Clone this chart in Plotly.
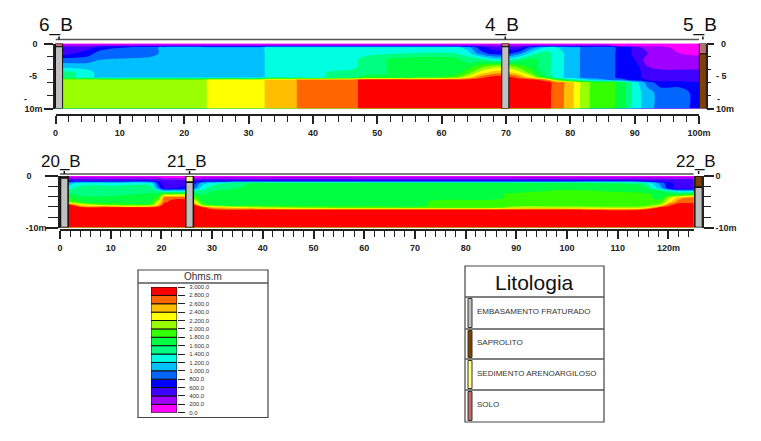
import plotly.graph_objects as go

W, H = 761, 441

# resistivity classes of the colour scale (ohm.m)
band_edges = [0, 200, 400, 600, 800, 1000, 1200, 1400, 1600, 1800, 2000, 2200, 2400, 2600, 2800, 3000]
band_labels = ['0,0', '200,0', '400,0', '600,0', '800,0', '1.000,0', '1.200,0', '1.400,0', '1.600,0',
               '1.800,0', '2.000,0', '2.200,0', '2.400,0', '2.600,0', '2.800,0', '3.000,0']
band_colors = ['#ff00ff', '#a000ff', '#4000ff', '#0000ff', '#0066ff', '#00bfff', '#00ffe0', '#00ff80',
               '#00ff40', '#33ff00', '#99ff00', '#ffff00', '#ffbf00', '#ff6600', '#ff0000']

# section 1, wells 6_B / 4_B / 5_B
x1 = [0, 1.2, 5, 7, 15, 17, 23, 24, 32, 33, 37, 38, 46, 48, 55, 62, 64, 66, 68, 70, 72, 74, 76, 78, 80, 81, 82, 84, 86, 88, 89, 90, 92, 94, 97, 100]
y1 = [0, -0.3, -0.6, -1.5, -2.5, -3.5, -4.5, -5.2, -5.6, -6, -7.5, -10]
z1 = [
    [100, 100, 100, 100, 100, 100, 100, 100, 100, 100, 100, 100, 100, 100, 100, 100, 100, 100, 100, 100, 100, 100, 100, 100, 100, 100, 100, 100, 100, 100, 100, 100, 100, 100, 100, 100],
    [300, 300, 300, 300, 300, 300, 300, 300, 300, 300, 300, 300, 300, 300, 300, 300, 300, 300, 300, 300, 300, 300, 300, 300, 300, 300, 300, 300, 300, 100, 100, 100, 100, 100, 100, 100],
    [500, 500, 500, 700, 900, 1100, 1100, 1100, 1100, 1300, 1300, 1300, 1300, 1300, 1300, 1300, 1100, 700, 500, 500, 500, 900, 1200, 1200, 1100, 1100, 900, 900, 900, 700, 700, 500, 300, 300, 100, 100],
    [500, 500, 700, 900, 900, 1100, 1100, 1100, 1100, 1300, 1300, 1300, 1300, 1300, 1400, 1400, 1300, 900, 700, 700, 900, 1300, 1500, 1300, 1100, 1100, 900, 900, 900, 700, 700, 500, 400, 300, 200, 150],
    [900, 900, 900, 1000, 1100, 1100, 1100, 1100, 1100, 1300, 1300, 1300, 1300, 1500, 1700, 1700, 1500, 1500, 1300, 1300, 1500, 1700, 1500, 1300, 1100, 1100, 900, 900, 900, 700, 700, 600, 300, 300, 300, 300],
    [1100, 1100, 1100, 1100, 1100, 1100, 1100, 1100, 1100, 1300, 1300, 1300, 1300, 1500, 1700, 1700, 1700, 1900, 2100, 2100, 1900, 1700, 1500, 1300, 1100, 1100, 900, 900, 900, 700, 700, 700, 400, 300, 300, 300],
    [1500, 1500, 1300, 1100, 1100, 1100, 1100, 1100, 1100, 1300, 1300, 1300, 1500, 1500, 1700, 1700, 1900, 2300, 2500, 2500, 2300, 1900, 1500, 1300, 1100, 1100, 900, 900, 900, 700, 700, 700, 500, 500, 500, 500],
    [1700, 1500, 1300, 1100, 1100, 1100, 1100, 1100, 1100, 1300, 1300, 1300, 1500, 1700, 1700, 1900, 2300, 2700, 2900, 2900, 2700, 2300, 1700, 1300, 1100, 1100, 900, 900, 900, 700, 700, 700, 500, 500, 500, 500],
    [2100, 2100, 2100, 2100, 2100, 2100, 2100, 2300, 2300, 2500, 2500, 2700, 2700, 2900, 2900, 2900, 2900, 2900, 2900, 2900, 2900, 2900, 2700, 1900, 1500, 1400, 1300, 1100, 1000, 900, 800, 700, 600, 500, 500, 500],
    [2100, 2100, 2100, 2100, 2100, 2100, 2100, 2300, 2300, 2500, 2500, 2700, 2700, 2900, 2900, 2900, 2900, 2900, 2900, 2900, 2900, 2900, 2900, 2700, 2500, 2300, 2100, 1900, 1900, 1700, 1500, 1300, 900, 700, 700, 600],
    [2100, 2100, 2100, 2100, 2100, 2100, 2100, 2300, 2300, 2500, 2500, 2700, 2700, 2900, 2900, 2900, 2900, 2900, 2900, 2900, 2900, 2900, 2900, 2700, 2500, 2300, 2100, 1900, 1900, 1700, 1500, 1300, 1100, 900, 900, 700],
    [2100, 2100, 2100, 2100, 2100, 2100, 2100, 2300, 2300, 2500, 2500, 2700, 2700, 2900, 2900, 2900, 2900, 2900, 2900, 2900, 2900, 2900, 2900, 2700, 2500, 2300, 2100, 1900, 1900, 1700, 1500, 1300, 1100, 900, 900, 700],
]

# section 2, wells 20_B / 21_B / 22_B
x2 = [0, 1.6, 4, 10, 18, 19.5, 20.5, 22, 24.8, 26.3, 28, 30, 40, 60, 85, 90, 100, 115, 118.5, 120, 122, 125]
y2 = [0, -0.4, -0.9, -1.4, -2.4, -3, -3.6, -4.2, -5, -5.6, -6.1, -6.6, -10]
z2 = [
    [100, 100, 100, 100, 100, 100, 100, 100, 100, 100, 100, 100, 100, 100, 100, 100, 100, 100, 100, 100, 100, 100],
    [300, 300, 300, 300, 300, 300, 200, 200, 200, 200, 300, 300, 300, 300, 300, 300, 300, 300, 300, 300, 300, 300],
    [500, 500, 500, 500, 500, 500, 500, 500, 500, 500, 500, 500, 500, 500, 500, 500, 500, 500, 500, 500, 500, 500],
    [900, 1100, 1300, 1300, 1300, 700, 500, 500, 500, 700, 1100, 1300, 1700, 1700, 1700, 1700, 1700, 1500, 900, 700, 500, 500],
    [1300, 1300, 1500, 1500, 1500, 900, 600, 600, 700, 900, 1300, 1500, 1700, 1700, 1700, 1700, 1700, 1700, 1100, 700, 500, 500],
    [1500, 1500, 1500, 1500, 1500, 1500, 1300, 1300, 1300, 1500, 1500, 1600, 1700, 1700, 1700, 1700, 1900, 1700, 1700, 1500, 1300, 1300],
    [1700, 1700, 1500, 1500, 1700, 1700, 2100, 2100, 2100, 1700, 1600, 1700, 1700, 1700, 1700, 1900, 1900, 1900, 1700, 1700, 1700, 1900],
    [1900, 1800, 1700, 1700, 1700, 1900, 2700, 2700, 2700, 2000, 1700, 1700, 1700, 1700, 1700, 1900, 1900, 1900, 1700, 2100, 2500, 2700],
    [2100, 2000, 1800, 1700, 1700, 2300, 2700, 2900, 2900, 2400, 1800, 1700, 1700, 1700, 1900, 1900, 1900, 1900, 1900, 2300, 2700, 2700],
    [2900, 2900, 2300, 1900, 1900, 2500, 2900, 2900, 2900, 2900, 2000, 1800, 1700, 1700, 1900, 1900, 1900, 1900, 2100, 2700, 2900, 2900],
    [2900, 2900, 2900, 2900, 2900, 2900, 2900, 2900, 2900, 2900, 2900, 2500, 2100, 1900, 1900, 2100, 2100, 2100, 2900, 2900, 2900, 2900],
    [2900, 2900, 2900, 2900, 2900, 2900, 2900, 2900, 2900, 2900, 2900, 2900, 2900, 2900, 2900, 2900, 2900, 2900, 2900, 2900, 2900, 2900],
    [2900, 2900, 2900, 2900, 2900, 2900, 2900, 2900, 2900, 2900, 2900, 2900, 2900, 2900, 2900, 2900, 2900, 2900, 2900, 2900, 2900, 2900],
]

# lithology
litho_names = ['EMBASAMENTO FRATURADO', 'SAPROLITO', 'SEDIMENTO ARENOARGILOSO', 'SOLO']
litho_colors = ['#c0c0c0', '#804000', '#ffff80', '#c06a6a']
solo, sedimento, saprolito, embasamento = litho_colors[3], litho_colors[2], litho_colors[1], litho_colors[0]

# wells: name, x, [(bottom depth, colour)...]
wells1 = [('6_B', 0.55, [(-0.5, solo), (-10, embasamento)]),
          ('4_B', 69.9, [(-0.5, solo), (-10, embasamento)]),
          ('5_B', 100.6, [(-1.6, '#b07070'), (-10, saprolito)])]
wells2 = [('20_B', 0.85, [(-0.4, solo), (-10, embasamento)]),
          ('21_B', 25.55, [(-1.2, sedimento), (-10, embasamento)]),
          ('22_B', 125.95, [(-2.2, saprolito), (-10, embasamento)])]

FONT = 'Liberation Sans'
NB = '\u00a0'


def fx(px):
    return px / W


def fy(px):
    return 1 - px / H


# discrete colour scale
colorscale = []
for i, c in enumerate(band_colors):
    colorscale.append([i / 15, c])
    colorscale.append([(i + 1) / 15, c])

fig = go.Figure()


def add_section(xs, ys, zs, xa, xw, ya, yr, wells, width, line_w):
    fig.add_trace(go.Contour(x=xs, y=ys, z=zs, xaxis=xa, yaxis=ya, colorscale=colorscale, zmin=0, zmax=3000,
                             autocontour=False, contours=dict(start=0, end=3000, size=200, coloring='fill'),
                             line=dict(width=0), showscale=False, hoverinfo='skip'))
    # wells go on a hidden full-width x axis so the last one is not dropped past the end of the section
    for name, pos, layers in wells:
        top = 0
        for bottom, color in layers:
            fig.add_trace(go.Bar(x=[pos], y=[bottom - top], base=[top], width=[width], xaxis=xw, yaxis=yr,
                                 marker=dict(color=color, line=dict(color='#111111', width=line_w)),
                                 cliponaxis=False, showlegend=False, hoverinfo='skip'))
            top = bottom


add_section(x1, y1, z1, 'x', 'x4', 'y', 'y2', wells1, 1.1, 1)
add_section(x2, y2, z2, 'x2', 'x5', 'y3', 'y4', wells2, 1.5, 1.5)

# colour scale drawn as stacked bars
for i, c in enumerate(band_colors):
    fig.add_trace(go.Bar(x=[0], y=[band_edges[i + 1] - band_edges[i]], base=[band_edges[i]], width=[1],
                         xaxis='x3', yaxis='y5', marker=dict(color=c, line=dict(color='#111111', width=1)),
                         showlegend=False, hoverinfo='skip'))

tick_font = dict(family=FONT, size=9, color='#222222', weight='bold')
ax_line = dict(showline=True, linecolor='#222222', linewidth=1.5, ticks='outside', tickcolor='#222222',
               tickwidth=1.5, showgrid=False, zeroline=False, tickfont=tick_font, automargin=False)


def x_axis(left, right, axis_px, rng, vals, text):
    return dict(domain=[fx(left), fx(right)], range=rng, anchor='free', position=fy(axis_px), side='bottom',
                tickmode='array', tickvals=vals, ticktext=text, ticklen=8, ticklabelstandoff=1,
                minor=dict(dtick=2, tick0=0, ticks='outside', ticklen=6, tickcolor='#222222', tickwidth=1.2, showgrid=False),
                **ax_line)


def wide_axis(left, right, rng_end):
    # same scale as the visible axis, stretched over the whole page
    scale = (right - left) / rng_end
    return dict(domain=[0, 1], range=[-left / scale, (W - left) / scale], anchor='free', position=0, visible=False)


def y_axis(top, bottom, pos, side, text, overlay=None, ticklen=9, standoff=None):
    a = dict(domain=[fy(bottom), fy(top)], range=[-10, 0], anchor='free', position=fx(pos), side=side,
             tickmode='array', tickvals=[0, -10], ticktext=text, ticklen=ticklen,
             minor=dict(tickvals=[-2, -4, -6, -8], ticks='outside', ticklen=ticklen - 3, tickcolor='#222222',
                        tickwidth=1.2, showgrid=False), **ax_line)
    if overlay:
        a['overlaying'] = overlay
    if standoff is not None:
        a['ticklabelstandoff'] = standoff
    return a


fig.update_layout(
    width=W, height=H, margin=dict(l=0, r=0, t=0, b=0, autoexpand=False), autosize=False, barmode='overlay',
    paper_bgcolor='white', plot_bgcolor='rgba(0,0,0,0)', showlegend=False,
    xaxis=x_axis(55.5, 699, 115, [0, 100], [0, 10, 20, 30, 40, 50, 60, 70, 80, 90, 100],
                 ['0', '10', '20', '30', '40', '50', '60', '70', '80', '90', '100m']),
    yaxis=y_axis(43.5, 108.5, 54, 'left', ['0' + NB * 2, '10m']),
    yaxis2=y_axis(43.5, 108.5, 706.5, 'right', [NB * 2 + '0', '10m'], overlay='y', ticklen=7),
    xaxis2=x_axis(60, 693.8, 230, [0, 125], [0, 10, 20, 30, 40, 50, 60, 70, 80, 90, 100, 110, 120],
                  ['0', '10', '20', '30', '40', '50', '60', '70', '80', '90', '100', '110', '120m']),
    yaxis3=y_axis(176, 227.5, 59, 'left', ['0' + NB * 6, '-10m'], ticklen=13, standoff=-3),
    yaxis4=y_axis(176, 227.5, 703, 'right', ['0', '-10m'], overlay='y3', ticklen=10),
    xaxis3=dict(domain=[fx(151), fx(177)], range=[-0.5, 0.5], anchor='y5', visible=False),
    xaxis4=wide_axis(55.5, 699, 100),
    xaxis5=wide_axis(60, 693.8, 125),
    yaxis5=dict(domain=[fy(412.7), fy(287)], range=[0, 3000], anchor='free', position=fx(177), side='right',
                tickmode='array', tickvals=band_edges, ticktext=band_labels, ticks='outside', ticklen=7,
                tickcolor='#222222', tickwidth=1, ticklabelstandoff=3, showline=False, showgrid=False, zeroline=False,
                tickfont=dict(family=FONT, size=6, color='#333333')),
)

ann = []
shapes = []


def label(x, y, text, size, xref='paper', yref='paper', color='#111111', xanchor='center', weight='normal', xshift=0):
    ann.append(dict(x=x, y=y, xref=xref, yref=yref, text=text, showarrow=False, xanchor=xanchor, yanchor='middle',
                    xshift=xshift, font=dict(family=FONT, size=size, color=color, weight=weight)))


def line(x0, y0, x1_, y1_, color='#555555', width=1.5, xref='paper', yref='paper'):
    shapes.append(dict(type='line', x0=x0, y0=y0, x1=x1_, y1=y1_, xref=xref, yref=yref,
                       line=dict(color=color, width=width)))


def box(x0, y0, x1_, y1_):
    shapes.append(dict(type='rect', x0=fx(x0), y0=fy(y0), x1=fx(x1_), y1=fy(y1_), xref='paper', yref='paper',
                       line=dict(color='#444444', width=1.2), fillcolor='rgba(0,0,0,0)'))


# top border and well names
for wells, xa, xw, top_px, name_px, size, x_left, x_right in [(wells1, 'x', 'x4', 39.5, 25, 19, 0, 100), (wells2, 'x2', 'x5', 174, 162, 17, 0, 125)]:
    line(x_left, fy(top_px), x_right, fy(top_px), xref=xa)
    for name, pos, layers in wells:
        label(pos, fy(name_px), name, size, xref=xw, xshift=-3)
        line(pos, fy(top_px), pos, fy(top_px - 3), color='#111111', xref=xw)

# depth labels that carry no tick
label(-3.5, -5, '-5', 9, xref='x4', yref='y', weight='bold', color='#222222')
label(-4.6, -8.5, '-', 9, xref='x4', yref='y', weight='bold', color='#222222')
label(103.5, -5, '- 5', 9, xref='x4', yref='y', weight='bold', color='#222222')
label(103.1, -8.5, '-', 9, xref='x4', yref='y', weight='bold', color='#222222')

# colour scale frame
box(138, 270, 268, 417.5)
line(fx(138), fy(283), fx(268), fy(283))
label(fx(203), fy(276.5), 'Ohms.m', 10, color='#333333')

# lithology frame
box(465, 266, 604, 422)
dividers = [297, 329, 359, 390, 422]
for d in dividers[:-1]:
    line(fx(465), fy(d), fx(604), fy(d))
label(fx(534), fy(282), 'Litologia', 21)
for i, (name, color) in enumerate(zip(litho_names, litho_colors)):
    shapes.append(dict(type='rect', x0=fx(468), x1=fx(472), y0=fy(dividers[i] + 1.5), y1=fy(dividers[i + 1] - 1.5),
                       xref='paper', yref='paper', fillcolor=color, line=dict(color='#333333', width=1)))
    label(fx(475), fy((dividers[i] + dividers[i + 1]) / 2 - 1.5), name, 8, xanchor='left', color='#333333')

fig.update_layout(annotations=ann, shapes=shapes)

fig.write_html("out.html", config=dict(displayModeBar=False, responsive=False), default_width=f'{W}px', default_height=f'{H}px',
               post_script="document.body.style.margin='0';document.body.style.overflow='hidden';")
